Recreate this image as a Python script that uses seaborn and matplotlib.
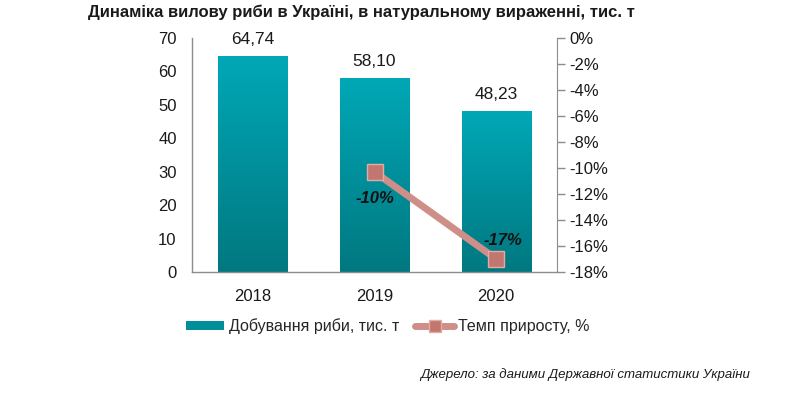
import numpy as np
import pandas as pd
import matplotlib
matplotlib.use("Agg")
import matplotlib.pyplot as plt
import seaborn as sns
from matplotlib.patches import Patch
from matplotlib.lines import Line2D

years = ["2018", "2019", "2020"]
catch = [64.74, 58.10, 48.23]
catch_labels = ["64,74", "58,10", "48,23"]
growth_years = ["2019", "2020"]
growth = [-10.3, -17.0]
growth_labels = ["-10%", "-17%"]

title = "Динаміка вилову риби в Україні, в натуральному вираженні, тис. т"
bar_name = "Добування риби, тис. т"
line_name = "Темп приросту, %"
source = "Джерело: за даними Державної статистики України"

sns.set_style("white")
plt.rcParams["font.family"] = ["Liberation Sans", "DejaVu Sans"]

teal_top = "#00A8B7"
teal_bot = "#007880"
line_col = "#CD8F88"
mark_col = "#C1776F"
grey = "#8C8C8C"

fig = plt.figure(figsize=(7.85, 3.95), dpi=100)
ax = fig.add_axes([0.2446, 0.3114, 0.465, 0.5924])

df = pd.DataFrame({"year": years, "catch": catch})
sns.barplot(data=df, x="year", y="catch", color=teal_top, width=0.57,
            saturation=1, ax=ax)

# vertical gradient inside each bar
grad = np.linspace(0, 1, 256).reshape(-1, 1)
cmap = matplotlib.colors.LinearSegmentedColormap.from_list("t", [teal_bot, teal_top])
for p, lab in zip(ax.patches, catch_labels):
    x0, w, h = p.get_x(), p.get_width(), p.get_height()
    im = ax.imshow(grad, cmap=cmap, aspect="auto", origin="lower",
                   extent=[x0, x0 + w, 0, h], zorder=p.get_zorder())
    im.set_clip_path(p)
    p.set_facecolor("none")
    p.set_edgecolor("none")
    ax.annotate(lab, (x0 + w / 2, h), xytext=(0, 6), textcoords="offset points",
                ha="center", va="bottom", fontsize=12.5, color="#1a1a1a")

ax.set_xlim(-0.5, 2.5)
ax.set_ylim(0, 70)
ax.set_yticks(range(0, 71, 10))
ax.set_xlabel("")
ax.set_ylabel("")
ax.tick_params(axis="y", labelsize=12, length=0, pad=11, colors="#1a1a1a")
ax.tick_params(axis="x", labelsize=12, length=0, pad=12, colors="#1a1a1a")
for s in ["top", "right"]:
    ax.spines[s].set_visible(False)
for s in ["left", "bottom"]:
    ax.spines[s].set_color(grey)
    ax.spines[s].set_linewidth(1)

ax2 = ax.twinx()
gx = [years.index(y) for y in growth_years]
sns.lineplot(x=gx, y=growth, ax=ax2, color=line_col, linewidth=5,
             marker="s", markersize=11, markerfacecolor=mark_col,
             markeredgecolor="#E2ACA5", markeredgewidth=1, zorder=5)
ax2.set_ylim(-18, 0)
ax2.set_yticks(range(-18, 1, 2))
ax2.set_yticklabels([f"{t}%" for t in range(-18, 1, 2)])
ax2.tick_params(axis="y", labelsize=12, length=6, width=1, color=grey,
                colors="#1a1a1a", pad=3)
ax2.tick_params(axis="y", color=grey)
for s in ["top", "left", "bottom"]:
    ax2.spines[s].set_visible(False)
ax2.spines["right"].set_color(grey)
ax2.set_xlim(-0.5, 2.5)

offs = [(0, -19), (5, 13)]
for x, y, lab, o in zip(gx, growth, growth_labels, offs):
    ax2.annotate(lab, (x, y), xytext=o, textcoords="offset points",
                 ha="center", va="center", fontsize=12, fontweight="bold",
                 fontstyle="italic", color="#111111")

fig.text(0.46, 0.968, title, ha="center", va="center", fontsize=12,
         fontweight="bold", color="#1a1a1a")

handles = [Patch(facecolor="#008E99", edgecolor="none"),
           Line2D([], [], color=line_col, linewidth=5, marker="s", markersize=8,
                  markerfacecolor=mark_col, markeredgecolor="#E2ACA5")]
fig.legend(handles, [bar_name, line_name], loc="center", ncol=2,
           bbox_to_anchor=(388 / 785, 1 - 326 / 395), frameon=False,
           fontsize=11.5, handlelength=2.4, handleheight=0.5, handletextpad=0.3,
           columnspacing=1.0)

fig.text(750 / 785, 1 - 375 / 395, source, ha="right", va="center",
         fontsize=9.5, fontstyle="italic", color="#1a1a1a")

fig.savefig("out.png", dpi=100)
